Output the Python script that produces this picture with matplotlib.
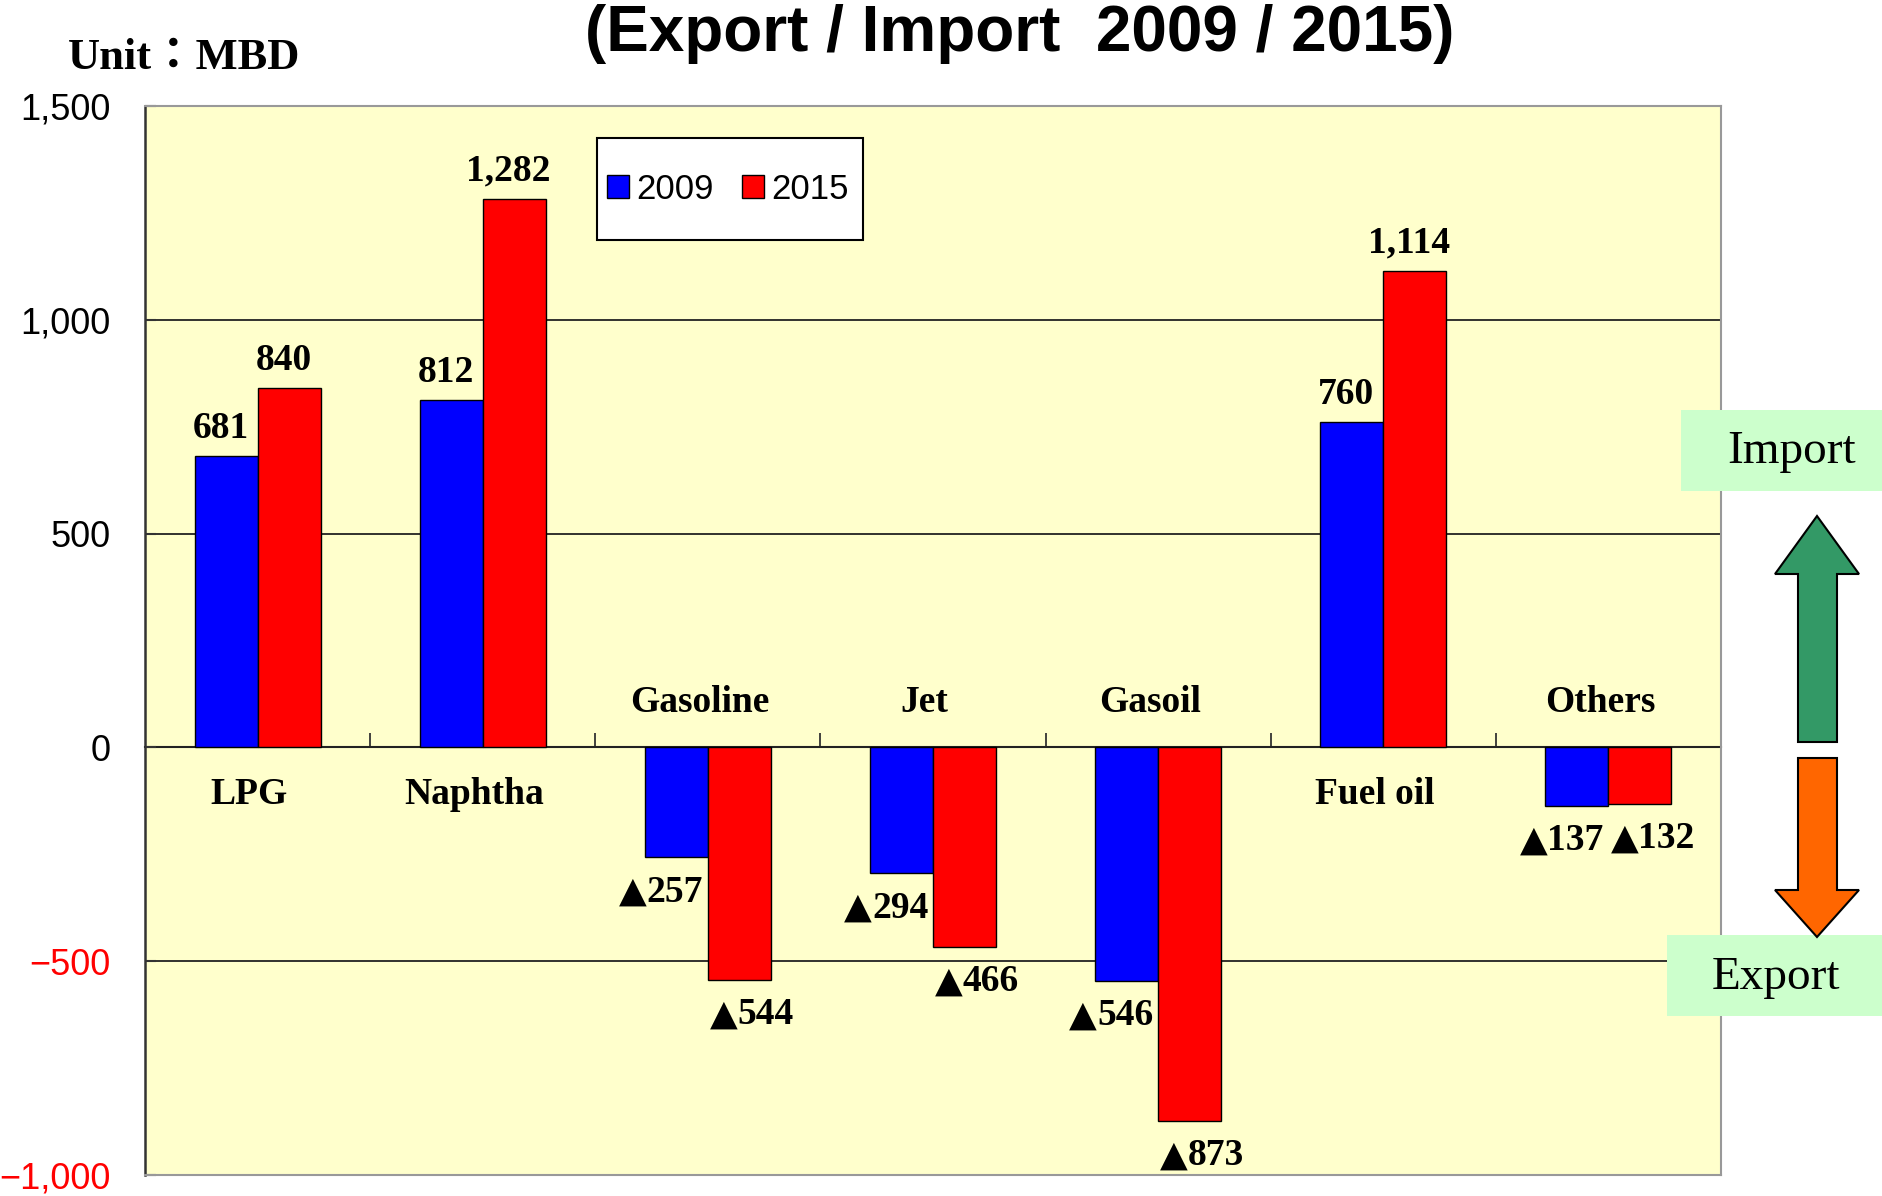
import numpy as np
import matplotlib.pyplot as plt
from matplotlib.patches import Polygon, Rectangle

categories = ['LPG', 'Naphtha', 'Gasoline', 'Jet', 'Gasoil', 'Fuel oil', 'Others']
values_2009 = [681, 812, -257, -294, -546, 760, -137]
values_2015 = [840, 1282, -544, -466, -873, 1114, -132]
years = ['2009', '2015']
yticks = [-1000, -500, 0, 500, 1000, 1500]


if __name__ == '__main__':
    W, H = 1883, 1196
    fig = plt.figure(figsize=(W / 100, H / 100), dpi=100)
    ax = fig.add_axes([145 / W, 1 - 1175 / H, 1576 / W, 1069 / H])
    ax.set_facecolor('#FFFFCC')

    serif = 'Liberation Serif'
    colors = ['#0000FF', '#FF0000']
    x = np.arange(len(categories))
    w = 0.28
    b1 = ax.bar(x - w / 2, values_2009, w, color=colors[0], edgecolor='black', linewidth=1, label=years[0], zorder=3)
    b2 = ax.bar(x + w / 2, values_2015, w, color=colors[1], edgecolor='black', linewidth=1, label=years[1], zorder=3)

    fs = 27
    for bars, vals, shift in [(b1, values_2009, -11), (b2, values_2015, 9)]:
        for rect, v in zip(bars, vals):
            cx = rect.get_x() + rect.get_width() / 2
            if v >= 0:
                ax.annotate(format(v, ','), (cx, v), xytext=(-4, 20), textcoords='offset points',
                            ha='center', va='center', fontsize=fs, fontweight='bold', family=serif, zorder=5)
            else:
                # exports: triangle mark + number, written under the bar
                digits = format(-v, ',')
                split = shift - (0.5 * fs * len(digits) - 20) / 2
                ax.annotate('\u25b2', (cx, v), xytext=(split, -32), textcoords='offset points',
                            ha='right', va='baseline', fontsize=26, family='DejaVu Sans', zorder=5)
                ax.annotate(digits, (cx, v), xytext=(split, -32), textcoords='offset points',
                            ha='left', va='baseline', fontsize=fs, fontweight='bold', family=serif, zorder=5)

    # category names: below zero line for imports, above for exports
    for i, name in enumerate(categories):
        y = -110 if values_2009[i] > 0 else 104
        ax.annotate(name, (i, y), xytext=(-6, 0), textcoords='offset points', ha='center', va='center',
                    fontsize=fs, fontweight='bold', family=serif, zorder=5)

    ax.set_xlim(-0.5, len(categories) - 0.5)
    ax.set_ylim(-1000, 1500)
    ax.set_xticks([])
    ax.set_yticks(yticks)
    ax.set_yticklabels([format(t, ',').replace('-', '\u2212') for t in yticks],
                       fontsize=26, family='Liberation Sans')
    for lab, t in zip(ax.get_yticklabels(), yticks):
        lab.set_color('red' if t < 0 else 'black')
    ax.tick_params(axis='y', direction='in', length=8, width=1.5, pad=25, color='#333333')
    ax.yaxis.grid(True, color='#222222', linewidth=1.3)
    ax.set_axisbelow(True)
    for s in ['top', 'right', 'bottom']:
        ax.spines[s].set_color('#999999')
        ax.spines[s].set_linewidth(1.5)
    ax.spines['left'].set_color('#333333')
    ax.spines['left'].set_linewidth(1.8)

    # category axis sits on the zero line
    sec = ax.secondary_xaxis(1000 / 2500)
    sec.set_xticks(np.arange(0.5, len(categories) - 0.5, 1.0))
    sec.set_xticklabels([])
    sec.tick_params(direction='in', length=10, width=1.3, color='#333333')
    sec.spines['bottom'].set_color('#222222')
    sec.spines['bottom'].set_linewidth(1.5)

    # legend box drawn separately so it can be taller than the entries
    ax.add_patch(Rectangle((0.2868, 0.8746), 0.1688, 0.0954, transform=ax.transAxes, facecolor='white',
                           edgecolor='black', linewidth=1.5, zorder=6))
    leg = ax.legend(loc='center', bbox_to_anchor=(0.3700, 0.9223), borderaxespad=0, ncol=2, frameon=False,
                    prop={'family': 'Liberation Sans', 'size': 25}, borderpad=0,
                    handlelength=0.63, handleheight=0.63, handletextpad=0.2, columnspacing=0.83)
    leg.set_zorder(7)

    fig.text(1020 / W, 1 - 34 / H, '(Export / Import  2009 / 2015)', ha='center', va='center',
             fontsize=46, fontweight='bold', family='Liberation Sans')
    fig.text(68 / W, 1 - 58 / H, 'Unit\uff1aMBD', ha='left', va='center', fontsize=32,
             fontweight='bold', family=['Liberation Serif', 'Noto Sans CJK JP', 'DejaVu Sans'])

    # import / export marker on the right
    tr = fig.dpi_scale_trans
    fig.add_artist(Rectangle((16.81, 7.05), 2.02, 0.81, facecolor='#CCFFCC', edgecolor='none', transform=tr))
    fig.add_artist(Rectangle((16.67, 1.80), 2.16, 0.81, facecolor='#CCFFCC', edgecolor='none', transform=tr))
    fig.text(1792 / W, 1 - 452 / H, 'Import', ha='center', va='center', fontsize=34, family='Liberation Serif')
    fig.text(1776 / W, 1 - 978 / H, 'Export', ha='center', va='center', fontsize=34, family='Liberation Serif')
    up = [(17.98, 4.54), (17.98, 6.22), (17.75, 6.22), (18.17, 6.80), (18.59, 6.22), (18.37, 6.22), (18.37, 4.54)]
    down = [(17.98, 4.38), (17.98, 3.06), (17.75, 3.06), (18.17, 2.59), (18.59, 3.06), (18.37, 3.06), (18.37, 4.38)]
    fig.add_artist(Polygon(up, closed=True, facecolor='#339966', edgecolor='black', linewidth=1.5, transform=tr))
    fig.add_artist(Polygon(down, closed=True, facecolor='#FF6600', edgecolor='black', linewidth=1.5, transform=tr))

    plt.savefig('out.png', dpi=100)
